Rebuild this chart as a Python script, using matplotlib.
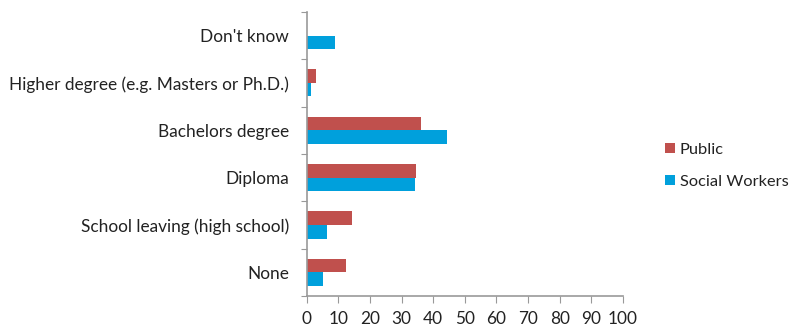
import numpy as np
import matplotlib
matplotlib.use("Agg")
import matplotlib.pyplot as plt

# --- data (bottom to top) ---
categories = ["None", "School leaving (high school)", "Diploma",
              "Bachelors degree", "Higher degree (e.g. Masters or Ph.D.)",
              "Don't know"]
public = [12.4, 14.2, 34.5, 36.1, 2.8, 0.0]
social_workers = [5.0, 6.5, 34.3, 44.2, 1.2, 8.8]
x_ticks = list(range(0, 101, 10))

plt.rcParams["font.family"] = ["Lato", "DejaVu Sans"]

fig = plt.figure(figsize=(7.95, 3.28), dpi=100)
ax = fig.add_axes([0.386, 0.0976, 0.3975, 0.866])

y = np.arange(len(categories))
h = 0.286
ax.barh(y + h / 2, public, height=h, color="#C0504D", label="Public")
ax.barh(y - h / 2, social_workers, height=h, color="#00A0DC", label="Social Workers")

ax.set_xlim(0, 100)
ax.set_ylim(-0.5, len(categories) - 0.5)
ax.set_xticks(x_ticks)
ax.tick_params(axis="x", direction="out", length=5, color="#999999",
               labelsize=12.4, labelcolor="#222222", pad=6)

# --- y: ticks on category borders, labels in the middle ---
ax.set_yticks(np.arange(-0.5, len(categories)), labels=[])
ax.set_yticks(y, labels=categories, minor=True)
ax.tick_params(axis="y", which="major", direction="out", length=4, color="#999999")
ax.tick_params(axis="y", which="minor", length=0, labelsize=12.4,
               labelcolor="#222222", pad=13)

for s in ["top", "right"]:
    ax.spines[s].set_visible(False)
for s in ["left", "bottom"]:
    ax.spines[s].set_color("#999999")
    ax.spines[s].set_linewidth(1.2)

fig.legend(loc="upper left", bbox_to_anchor=(0.818, 0.61), frameon=False,
           fontsize=11.8, handlelength=0.6, handleheight=0.6, handletextpad=0.3,
           labelspacing=1.1, labelcolor="#222222")

fig.savefig("out.png", dpi=100)
